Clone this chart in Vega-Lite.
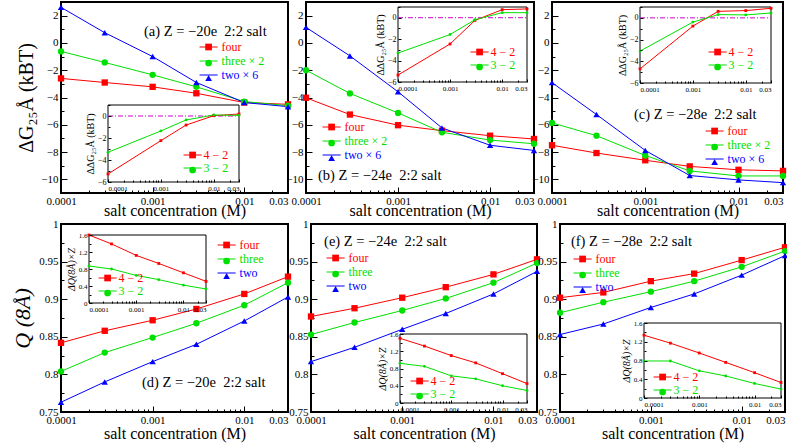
{
"$schema": "https://vega.github.io/schema/vega-lite/v6.json",
"padding": {"left": 10, "top": 0, "right": 0, "bottom": 2},
"config": {
  "view": {"stroke": "black", "strokeWidth": 2},
  "font": "Liberation Serif",
  "axis": {"grid": false, "domain": false, "labelFont": "Liberation Serif", "titleFont": "Liberation Serif", "labelColor": "black", "titleColor": "black", "tickColor": "black", "titleFontWeight": "normal"},
  "legend": {"labelFont": "Liberation Serif"},
  "text": {"font": "Liberation Serif"}
},
"datasets": {
  "titles": [
    {"p": "a", "t": "(a) Z = −20e\u00a0 2:2 salt"},
    {"p": "b", "t": "(b) Z = −24e\u00a0 2:2 salt"},
    {"p": "c", "t": "(c) Z = −28e\u00a0 2:2 salt"},
    {"p": "d", "t": "(d) Z = −20e\u00a0 2:2 salt"},
    {"p": "e", "t": "(e) Z = −24e\u00a0 2:2 salt"},
    {"p": "f", "t": "(f) Z = −28e\u00a0 2:2 salt"}
  ],
  "main": [
    {"p":"a","s":"four","c":0.0001,"v":-2.6},{"p":"a","s":"four","c":0.0003,"v":-2.9},{"p":"a","s":"four","c":0.001,"v":-3.22},{"p":"a","s":"four","c":0.003,"v":-3.69},{"p":"a","s":"four","c":0.01,"v":-4.37},{"p":"a","s":"four","c":0.03,"v":-4.5},
    {"p":"a","s":"three × 2","c":0.0001,"v":-0.62},{"p":"a","s":"three × 2","c":0.0003,"v":-1.43},{"p":"a","s":"three × 2","c":0.001,"v":-2.34},{"p":"a","s":"three × 2","c":0.003,"v":-3.22},{"p":"a","s":"three × 2","c":0.01,"v":-4.3},{"p":"a","s":"three × 2","c":0.03,"v":-4.6},
    {"p":"a","s":"two × 6","c":0.0001,"v":2.61},{"p":"a","s":"two × 6","c":0.0003,"v":0.75},{"p":"a","s":"two × 6","c":0.001,"v":-1.0},{"p":"a","s":"two × 6","c":0.003,"v":-2.9},{"p":"a","s":"two × 6","c":0.01,"v":-4.37},{"p":"a","s":"two × 6","c":0.03,"v":-4.67},
    {"p":"b","s":"four","c":0.0001,"v":-4.02},{"p":"b","s":"four","c":0.0003,"v":-5.25},{"p":"b","s":"four","c":0.001,"v":-6.03},{"p":"b","s":"four","c":0.003,"v":-6.43},{"p":"b","s":"four","c":0.01,"v":-6.8},{"p":"b","s":"four","c":0.03,"v":-7.04},
    {"p":"b","s":"three × 2","c":0.0001,"v":-2.0},{"p":"b","s":"three × 2","c":0.0003,"v":-3.7},{"p":"b","s":"three × 2","c":0.001,"v":-5.13},{"p":"b","s":"three × 2","c":0.003,"v":-6.55},{"p":"b","s":"three × 2","c":0.01,"v":-7.12},{"p":"b","s":"three × 2","c":0.03,"v":-7.39},
    {"p":"b","s":"two × 6","c":0.0001,"v":1.14},{"p":"b","s":"two × 6","c":0.0003,"v":-0.95},{"p":"b","s":"two × 6","c":0.001,"v":-3.58},{"p":"b","s":"two × 6","c":0.003,"v":-6.23},{"p":"b","s":"two × 6","c":0.01,"v":-7.5},{"p":"b","s":"two × 6","c":0.03,"v":-7.88},
    {"p":"c","s":"four","c":0.0001,"v":-7.5},{"p":"c","s":"four","c":0.0003,"v":-8.07},{"p":"c","s":"four","c":0.001,"v":-8.6},{"p":"c","s":"four","c":0.003,"v":-9.05},{"p":"c","s":"four","c":0.01,"v":-9.3},{"p":"c","s":"four","c":0.03,"v":-9.38},
    {"p":"c","s":"three × 2","c":0.0001,"v":-5.86},{"p":"c","s":"three × 2","c":0.0003,"v":-6.8},{"p":"c","s":"three × 2","c":0.001,"v":-8.25},{"p":"c","s":"three × 2","c":0.003,"v":-9.38},{"p":"c","s":"three × 2","c":0.01,"v":-9.75},{"p":"c","s":"three × 2","c":0.03,"v":-9.75},
    {"p":"c","s":"two × 6","c":0.0001,"v":-2.91},{"p":"c","s":"two × 6","c":0.0003,"v":-5.25},{"p":"c","s":"two × 6","c":0.001,"v":-7.88},{"p":"c","s":"two × 6","c":0.003,"v":-9.72},{"p":"c","s":"two × 6","c":0.01,"v":-10.04},{"p":"c","s":"two × 6","c":0.03,"v":-10.24},
    {"p":"d","s":"four","c":0.0001,"v":0.842},{"p":"d","s":"four","c":0.0003,"v":0.858},{"p":"d","s":"four","c":0.001,"v":0.872},{"p":"d","s":"four","c":0.003,"v":0.887},{"p":"d","s":"four","c":0.01,"v":0.907},{"p":"d","s":"four","c":0.03,"v":0.93},
    {"p":"d","s":"three","c":0.0001,"v":0.804},{"p":"d","s":"three","c":0.0003,"v":0.829},{"p":"d","s":"three","c":0.001,"v":0.849},{"p":"d","s":"three","c":0.003,"v":0.868},{"p":"d","s":"three","c":0.01,"v":0.892},{"p":"d","s":"three","c":0.03,"v":0.922},
    {"p":"d","s":"two","c":0.0001,"v":0.763},{"p":"d","s":"two","c":0.0003,"v":0.79},{"p":"d","s":"two","c":0.001,"v":0.817},{"p":"d","s":"two","c":0.003,"v":0.84},{"p":"d","s":"two","c":0.01,"v":0.871},{"p":"d","s":"two","c":0.03,"v":0.903},
    {"p":"e","s":"four","c":0.0001,"v":0.877},{"p":"e","s":"four","c":0.0003,"v":0.888},{"p":"e","s":"four","c":0.001,"v":0.902},{"p":"e","s":"four","c":0.003,"v":0.916},{"p":"e","s":"four","c":0.01,"v":0.933},{"p":"e","s":"four","c":0.03,"v":0.953},
    {"p":"e","s":"three","c":0.0001,"v":0.853},{"p":"e","s":"three","c":0.0003,"v":0.869},{"p":"e","s":"three","c":0.001,"v":0.885},{"p":"e","s":"three","c":0.003,"v":0.901},{"p":"e","s":"three","c":0.01,"v":0.922},{"p":"e","s":"three","c":0.03,"v":0.948},
    {"p":"e","s":"two","c":0.0001,"v":0.817},{"p":"e","s":"two","c":0.0003,"v":0.836},{"p":"e","s":"two","c":0.001,"v":0.86},{"p":"e","s":"two","c":0.003,"v":0.881},{"p":"e","s":"two","c":0.01,"v":0.907},{"p":"e","s":"two","c":0.03,"v":0.937},
    {"p":"f","s":"four","c":0.0001,"v":0.902},{"p":"f","s":"four","c":0.0003,"v":0.909},{"p":"f","s":"four","c":0.001,"v":0.924},{"p":"f","s":"four","c":0.003,"v":0.934},{"p":"f","s":"four","c":0.01,"v":0.952},{"p":"f","s":"four","c":0.03,"v":0.969},
    {"p":"f","s":"three","c":0.0001,"v":0.882},{"p":"f","s":"three","c":0.0003,"v":0.896},{"p":"f","s":"three","c":0.001,"v":0.91},{"p":"f","s":"three","c":0.003,"v":0.924},{"p":"f","s":"three","c":0.01,"v":0.943},{"p":"f","s":"three","c":0.03,"v":0.964},
    {"p":"f","s":"two","c":0.0001,"v":0.853},{"p":"f","s":"two","c":0.0003,"v":0.867},{"p":"f","s":"two","c":0.001,"v":0.889},{"p":"f","s":"two","c":0.003,"v":0.907},{"p":"f","s":"two","c":0.01,"v":0.932},{"p":"f","s":"two","c":0.03,"v":0.958}
  ],
  "inset": [
    {"p":"a","s":"4 − 2","c":0.0001,"v":-5.27},{"p":"a","s":"4 − 2","c":0.001,"v":-2.24},{"p":"a","s":"4 − 2","c":0.003,"v":-0.82},{"p":"a","s":"4 − 2","c":0.01,"v":0.03},{"p":"a","s":"4 − 2","c":0.03,"v":0.18},
    {"p":"a","s":"3 − 2","c":0.0001,"v":-3.3},{"p":"a","s":"3 − 2","c":0.001,"v":-1.36},{"p":"a","s":"3 − 2","c":0.003,"v":-0.36},{"p":"a","s":"3 − 2","c":0.01,"v":0.09},{"p":"a","s":"3 − 2","c":0.03,"v":0.06},
    {"p":"b","s":"4 − 2","c":0.0001,"v":-5.35},{"p":"b","s":"4 − 2","c":0.001,"v":-2.45},{"p":"b","s":"4 − 2","c":0.003,"v":-0.25},{"p":"b","s":"4 − 2","c":0.01,"v":0.75},{"p":"b","s":"4 − 2","c":0.03,"v":0.82},
    {"p":"b","s":"3 − 2","c":0.0001,"v":-3.3},{"p":"b","s":"3 − 2","c":0.001,"v":-1.57},{"p":"b","s":"3 − 2","c":0.003,"v":-0.19},{"p":"b","s":"3 − 2","c":0.01,"v":0.47},{"p":"b","s":"3 − 2","c":0.03,"v":0.47},
    {"p":"c","s":"4 − 2","c":0.0001,"v":-4.7},{"p":"c","s":"4 − 2","c":0.001,"v":-0.76},{"p":"c","s":"4 − 2","c":0.003,"v":0.6},{"p":"c","s":"4 − 2","c":0.01,"v":0.67},{"p":"c","s":"4 − 2","c":0.03,"v":0.88},
    {"p":"c","s":"3 − 2","c":0.0001,"v":-3.06},{"p":"c","s":"3 − 2","c":0.001,"v":-0.39},{"p":"c","s":"3 − 2","c":0.003,"v":0.3},{"p":"c","s":"3 − 2","c":0.01,"v":0.27},{"p":"c","s":"3 − 2","c":0.03,"v":0.45},
    {"p":"d","s":"4 − 2","c":0.0001,"v":1.6},{"p":"d","s":"4 − 2","c":0.0003,"v":1.39},{"p":"d","s":"4 − 2","c":0.001,"v":1.12},{"p":"d","s":"4 − 2","c":0.003,"v":0.93},{"p":"d","s":"4 − 2","c":0.01,"v":0.71},{"p":"d","s":"4 − 2","c":0.03,"v":0.51},
    {"p":"d","s":"3 − 2","c":0.0001,"v":0.87},{"p":"d","s":"3 − 2","c":0.0003,"v":0.8},{"p":"d","s":"3 − 2","c":0.001,"v":0.65},{"p":"d","s":"3 − 2","c":0.003,"v":0.55},{"p":"d","s":"3 − 2","c":0.01,"v":0.42},{"p":"d","s":"3 − 2","c":0.03,"v":0.33},
    {"p":"e","s":"4 − 2","c":0.0001,"v":1.5},{"p":"e","s":"4 − 2","c":0.0003,"v":1.32},{"p":"e","s":"4 − 2","c":0.001,"v":1.1},{"p":"e","s":"4 − 2","c":0.003,"v":0.93},{"p":"e","s":"4 − 2","c":0.01,"v":0.68},{"p":"e","s":"4 − 2","c":0.03,"v":0.45},
    {"p":"e","s":"3 − 2","c":0.0001,"v":0.92},{"p":"e","s":"3 − 2","c":0.0003,"v":0.85},{"p":"e","s":"3 − 2","c":0.001,"v":0.63},{"p":"e","s":"3 − 2","c":0.003,"v":0.56},{"p":"e","s":"3 − 2","c":0.01,"v":0.4},{"p":"e","s":"3 − 2","c":0.03,"v":0.29},
    {"p":"f","s":"4 − 2","c":0.0001,"v":1.34},{"p":"f","s":"4 − 2","c":0.0003,"v":1.17},{"p":"f","s":"4 − 2","c":0.001,"v":0.96},{"p":"f","s":"4 − 2","c":0.003,"v":0.76},{"p":"f","s":"4 − 2","c":0.01,"v":0.54},{"p":"f","s":"4 − 2","c":0.03,"v":0.33},
    {"p":"f","s":"3 − 2","c":0.0001,"v":0.79},{"p":"f","s":"3 − 2","c":0.0003,"v":0.79},{"p":"f","s":"3 − 2","c":0.001,"v":0.58},{"p":"f","s":"3 − 2","c":0.003,"v":0.47},{"p":"f","s":"3 − 2","c":0.01,"v":0.31},{"p":"f","s":"3 − 2","c":0.03,"v":0.19}
  ]
},
"spacing": -2,
"resolve": {"scale": {"stroke": "independent", "fill": "independent", "shape": "independent"}, "legend": {"stroke": "independent", "fill": "independent", "shape": "independent"}},
"vconcat": [
{
"hconcat": [
{
"width": 227, "height": 191,
"layer": [
 {"layer": [
  {"data": {"name": "main"}, "transform": [{"filter": "datum.p=='a'"}],
   "mark": {"type": "line", "strokeWidth": 1},
   "encoding": {
    "x": {"field": "c", "type": "quantitative", "scale": {"type": "log", "domain": [0.0001, 0.03], "nice": false},
      "axis": {"orient": "bottom", "values": [0.0001, 0.001, 0.01, 0.03], "format": "~g", "labelFlush": false, "labelAlign": {"condition": {"test": "datum.value > 0.02", "value": "right"}, "value": "center"}, "labelFontSize": 11, "labelPadding": 8, "tickSize": -6, "title": "salt concentration (M)", "titleFontSize": 16, "titlePadding": -4}},
    "y": {"field": "v", "type": "quantitative", "scale": {"domain": [-11, 3], "nice": false, "zero": false},
      "axis": {"orient": "left", "values": [-10, -8, -6, -4, -2, 0, 2], "labelFontSize": 11, "labelPadding": 9, "tickSize": -6, "title": "ΔG₂₅Å (kBT)", "titleFontSize": 20, "titlePadding": 4}},
    "stroke": {"field": "s", "type": "nominal", "scale": {"domain": ["four", "three × 2", "two × 6"], "range": ["#ff0000", "#00e000", "#0000ff"]},
      "legend": {"orient": "none", "legendX": 141.6, "legendY": 39, "title": null, "padding": 0, "rowPadding": 2, "labelFontSize": 12, "labelOffset": 7, "symbolType": "M-2.7,0H2.7", "symbolSize": 45, "symbolStrokeWidth": 1, "encode": {"labels": {"update": {"fill": {"signal": "indexof(datum.value,'f')==0||indexof(datum.value,'4')==0?'#ff0000':(indexof(datum.value,'th')==0||indexof(datum.value,'3')==0?'#00e000':'#0000ff')"}}}}}}
   }},
  {"data": {"name": "main"}, "transform": [{"filter": "datum.p=='a'"}],
   "mark": {"type": "point", "filled": true, "size": 40, "opacity": 1},
   "encoding": {
    "x": {"field": "c", "type": "quantitative", "scale": {"type": "log", "domain": [0.0001, 0.03], "nice": false},
      "axis": {"orient": "bottom", "values": [0.0002,0.0003,0.0004,0.0005,0.0006,0.0007,0.0008,0.0009,0.002,0.003,0.004,0.005,0.006,0.007,0.008,0.009,0.02], "labels": false, "tickSize": -3, "title": null}},
    "y": {"field": "v", "type": "quantitative", "scale": {"domain": [-11, 3], "nice": false, "zero": false},
      "axis": {"orient": "left", "values": [-11, -9, -7, -5, -3, -1, 1, 3], "labels": false, "tickSize": -3, "title": null}},
    "fill": {"field": "s", "type": "nominal", "scale": {"range": ["#ff0000", "#00e000", "#0000ff"]},
      "legend": {"orient": "none", "legendX": 141.6, "legendY": 39, "title": null, "padding": 0, "rowPadding": 2, "labelFontSize": 12, "labelColor": "transparent", "symbolSize": 45}},
    "shape": {"field": "s", "type": "nominal", "scale": {"range": ["square", "circle", "triangle-up"]},
      "legend": {"orient": "none", "legendX": 141.6, "legendY": 39, "title": null, "padding": 0, "rowPadding": 2, "labelFontSize": 12, "labelColor": "transparent", "symbolSize": 45}}
   }},
  {"data": {"name": "titles"}, "transform": [{"filter": "datum.p=='a'"}],
   "mark": {"type": "text", "align": "left", "baseline": "middle", "fontSize": 14.5},
   "encoding": {
    "x": {"datum": 0.000805, "type": "quantitative", "scale": {"type": "log", "domain": [0.0001, 0.03], "nice": false}, "axis": null},
    "y": {"datum": 0.8, "type": "quantitative", "scale": {"domain": [-11, 3], "nice": false, "zero": false}, "axis": null},
    "text": {"field": "t"}
   }}
 ],
 "resolve": {"axis": {"x": "independent", "y": "independent"}}},
 {"layer": [
  {"data": {"name": "titles"}, "transform": [{"filter": "datum.p=='a'"}],
   "mark": {"type": "rect", "fill": "white", "stroke": "black", "strokeWidth": 1},
   "encoding": {
    "x": {"datum": 0.0001, "type": "quantitative", "scale": {"type": "log", "domain": [0.0001, 0.03], "nice": false, "range": [47, 178]},
      "axis": {"orient": "bottom", "offset": -11, "values": [0.0001, 0.001, 0.01, 0.03], "format": "~g", "labelFlush": true, "labelFontSize": 7, "labelPadding": 5, "tickSize": -3, "title": null, "zindex": 1}},
    "x2": {"datum": 0.03},
    "y": {"datum": 1, "type": "quantitative", "scale": {"domain": [-6, 1], "nice": false, "zero": false, "range": [180, 103]},
      "axis": {"orient": "left", "offset": -47, "values": [-6, -4, -2, 0], "labelFontSize": 8, "labelPadding": 5, "tickSize": -3, "title": "ΔΔG₂₅Å (kBT)", "titleFontSize": 10, "titlePadding": 2, "zindex": 1}},
    "y2": {"datum": -6}
   }},
  {"data": {"name": "titles"}, "transform": [{"filter": "datum.p=='a'"}],
   "mark": {"type": "rule", "stroke": "#cc00cc", "strokeWidth": 1, "strokeDash": [5, 2, 1, 2]},
   "encoding": {
    "x": {"datum": 0.0001, "type": "quantitative", "scale": {"type": "log", "domain": [0.0001, 0.03], "nice": false, "range": [47, 178]}, "axis": null},
    "x2": {"datum": 0.03},
    "y": {"datum": 0, "type": "quantitative", "scale": {"domain": [-6, 1], "nice": false, "zero": false, "range": [180, 103]}, "axis": null}
   }},
  {"data": {"name": "inset"}, "transform": [{"filter": "datum.p=='a'"}],
   "mark": {"type": "line", "strokeWidth": 1},
   "encoding": {
    "x": {"field": "c", "type": "quantitative", "scale": {"type": "log", "domain": [0.0001, 0.03], "nice": false, "range": [47, 178]},
      "axis": {"orient": "bottom", "offset": -11, "values": [0.0002,0.0003,0.0004,0.0005,0.0006,0.0007,0.0008,0.0009,0.002,0.003,0.004,0.005,0.006,0.007,0.008,0.009,0.02], "labels": false, "tickSize": -2, "title": null, "zindex": 1}},
    "y": {"field": "v", "type": "quantitative", "scale": {"domain": [-6, 1], "nice": false, "zero": false, "range": [180, 103]},
      "axis": {"orient": "left", "offset": -47, "values": [-5, -3, -1, 1], "labels": false, "tickSize": -2, "title": null, "zindex": 1}},
    "stroke": {"field": "s", "type": "nominal", "scale": {"domain": ["4 − 2", "3 − 2"], "range": ["#ff0000", "#00e000"]},
      "legend": {"orient": "none", "legendX": 125.6, "legendY": 147, "title": null, "padding": 0, "rowPadding": 1, "labelFontSize": 12, "labelOffset": 5, "symbolType": "M-2.7,0H2.7", "symbolSize": 45, "symbolStrokeWidth": 1, "encode": {"labels": {"update": {"fill": {"signal": "indexof(datum.value,'f')==0||indexof(datum.value,'4')==0?'#ff0000':(indexof(datum.value,'th')==0||indexof(datum.value,'3')==0?'#00e000':'#0000ff')"}}}}}}
   }},
  {"data": {"name": "inset"}, "transform": [{"filter": "datum.p=='a'"}],
   "mark": {"type": "point", "filled": true, "size": 8, "opacity": 1},
   "encoding": {
    "x": {"field": "c", "type": "quantitative", "scale": {"type": "log", "domain": [0.0001, 0.03], "nice": false, "range": [47, 178]}, "axis": null},
    "y": {"field": "v", "type": "quantitative", "scale": {"domain": [-6, 1], "nice": false, "zero": false, "range": [180, 103]}, "axis": null},
    "fill": {"field": "s", "type": "nominal", "sort": "descending", "scale": {"range": ["#ff0000", "#00e000"]},
      "legend": {"orient": "none", "legendX": 125.6, "legendY": 147, "title": null, "padding": 0, "rowPadding": 1, "labelFontSize": 12, "labelColor": "transparent", "symbolSize": 45}},
    "shape": {"field": "s", "type": "nominal", "sort": "descending", "scale": {"range": ["square", "circle"]},
      "legend": {"orient": "none", "legendX": 125.6, "legendY": 147, "title": null, "padding": 0, "rowPadding": 1, "labelFontSize": 12, "labelColor": "transparent", "symbolSize": 45}}
   }}
 ],
 "resolve": {"axis": {"x": "independent", "y": "independent"}}}
],
"resolve": {"scale": {"x": "independent", "y": "independent", "stroke": "independent", "fill": "independent", "shape": "independent"}, "legend": {"stroke": "independent", "fill": "independent", "shape": "independent"}}
},
{
"width": 228, "height": 191,
"layer": [
 {"layer": [
  {"data": {"name": "main"}, "transform": [{"filter": "datum.p=='b'"}],
   "mark": {"type": "line", "strokeWidth": 1},
   "encoding": {
    "x": {"field": "c", "type": "quantitative", "scale": {"type": "log", "domain": [0.0001, 0.03], "nice": false},
      "axis": {"orient": "bottom", "values": [0.0001, 0.001, 0.01, 0.03], "format": "~g", "labelFlush": false, "labelAlign": {"condition": {"test": "datum.value > 0.02", "value": "right"}, "value": "center"}, "labelFontSize": 11, "labelPadding": 8, "tickSize": -6, "title": "salt concentration (M)", "titleFontSize": 16, "titlePadding": -4}},
    "y": {"field": "v", "type": "quantitative", "scale": {"domain": [-11, 3], "nice": false, "zero": false},
      "axis": {"orient": "left", "values": [-10, -8, -6, -4, -2, 0, 2], "labelFontSize": 11, "labelPadding": 9, "tickSize": -6, "title": null}},
    "stroke": {"field": "s", "type": "nominal", "scale": {"domain": ["four", "three × 2", "two × 6"], "range": ["#ff0000", "#00e000", "#0000ff"]},
      "legend": {"orient": "none", "legendX": 19.6, "legendY": 119, "title": null, "padding": 0, "rowPadding": 2, "labelFontSize": 12, "labelOffset": 7, "symbolType": "M-2.7,0H2.7", "symbolSize": 45, "symbolStrokeWidth": 1, "encode": {"labels": {"update": {"fill": {"signal": "indexof(datum.value,'f')==0||indexof(datum.value,'4')==0?'#ff0000':(indexof(datum.value,'th')==0||indexof(datum.value,'3')==0?'#00e000':'#0000ff')"}}}}}}
   }},
  {"data": {"name": "main"}, "transform": [{"filter": "datum.p=='b'"}],
   "mark": {"type": "point", "filled": true, "size": 40, "opacity": 1},
   "encoding": {
    "x": {"field": "c", "type": "quantitative", "scale": {"type": "log", "domain": [0.0001, 0.03], "nice": false},
      "axis": {"orient": "bottom", "values": [0.0002,0.0003,0.0004,0.0005,0.0006,0.0007,0.0008,0.0009,0.002,0.003,0.004,0.005,0.006,0.007,0.008,0.009,0.02], "labels": false, "tickSize": -3, "title": null}},
    "y": {"field": "v", "type": "quantitative", "scale": {"domain": [-11, 3], "nice": false, "zero": false},
      "axis": {"orient": "left", "values": [-11, -9, -7, -5, -3, -1, 1, 3], "labels": false, "tickSize": -3, "title": null}},
    "fill": {"field": "s", "type": "nominal", "scale": {"range": ["#ff0000", "#00e000", "#0000ff"]},
      "legend": {"orient": "none", "legendX": 19.6, "legendY": 119, "title": null, "padding": 0, "rowPadding": 2, "labelFontSize": 12, "labelColor": "transparent", "symbolSize": 45}},
    "shape": {"field": "s", "type": "nominal", "scale": {"range": ["square", "circle", "triangle-up"]},
      "legend": {"orient": "none", "legendX": 19.6, "legendY": 119, "title": null, "padding": 0, "rowPadding": 2, "labelFontSize": 12, "labelColor": "transparent", "symbolSize": 45}}
   }},
  {"data": {"name": "titles"}, "transform": [{"filter": "datum.p=='b'"}],
   "mark": {"type": "text", "align": "left", "baseline": "middle", "fontSize": 14.5},
   "encoding": {
    "x": {"datum": 0.000135, "type": "quantitative", "scale": {"type": "log", "domain": [0.0001, 0.03], "nice": false}, "axis": null},
    "y": {"datum": -9.75, "type": "quantitative", "scale": {"domain": [-11, 3], "nice": false, "zero": false}, "axis": null},
    "text": {"field": "t"}
   }}
 ],
 "resolve": {"axis": {"x": "independent", "y": "independent"}}},
 {"layer": [
  {"data": {"name": "titles"}, "transform": [{"filter": "datum.p=='b'"}],
   "mark": {"type": "rect", "fill": "white", "stroke": "black", "strokeWidth": 1},
   "encoding": {
    "x": {"datum": 0.0001, "type": "quantitative", "scale": {"type": "log", "domain": [0.0001, 0.03], "nice": false, "range": [92, 221]},
      "axis": {"orient": "bottom", "offset": -111, "values": [0.0001, 0.001, 0.01, 0.03], "format": "~g", "labelFlush": true, "labelFontSize": 7, "labelPadding": 5, "tickSize": -3, "title": null, "zindex": 1}},
    "x2": {"datum": 0.03},
    "y": {"datum": 1, "type": "quantitative", "scale": {"domain": [-6, 1], "nice": false, "zero": false, "range": [80, 5]},
      "axis": {"orient": "left", "offset": -92, "values": [-6, -4, -2, 0], "labelFontSize": 8, "labelPadding": 5, "tickSize": -3, "title": "ΔΔG₂₅Å (kBT)", "titleFontSize": 10, "titlePadding": 2, "zindex": 1}},
    "y2": {"datum": -6}
   }},
  {"data": {"name": "titles"}, "transform": [{"filter": "datum.p=='b'"}],
   "mark": {"type": "rule", "stroke": "#cc00cc", "strokeWidth": 1, "strokeDash": [5, 2, 1, 2]},
   "encoding": {
    "x": {"datum": 0.0001, "type": "quantitative", "scale": {"type": "log", "domain": [0.0001, 0.03], "nice": false, "range": [92, 221]}, "axis": null},
    "x2": {"datum": 0.03},
    "y": {"datum": 0, "type": "quantitative", "scale": {"domain": [-6, 1], "nice": false, "zero": false, "range": [80, 5]}, "axis": null}
   }},
  {"data": {"name": "inset"}, "transform": [{"filter": "datum.p=='b'"}],
   "mark": {"type": "line", "strokeWidth": 1},
   "encoding": {
    "x": {"field": "c", "type": "quantitative", "scale": {"type": "log", "domain": [0.0001, 0.03], "nice": false, "range": [92, 221]},
      "axis": {"orient": "bottom", "offset": -111, "values": [0.0002,0.0003,0.0004,0.0005,0.0006,0.0007,0.0008,0.0009,0.002,0.003,0.004,0.005,0.006,0.007,0.008,0.009,0.02], "labels": false, "tickSize": -2, "title": null, "zindex": 1}},
    "y": {"field": "v", "type": "quantitative", "scale": {"domain": [-6, 1], "nice": false, "zero": false, "range": [80, 5]},
      "axis": {"orient": "left", "offset": -92, "values": [-5, -3, -1, 1], "labels": false, "tickSize": -2, "title": null, "zindex": 1}},
    "stroke": {"field": "s", "type": "nominal", "scale": {"domain": ["4 − 2", "3 − 2"], "range": ["#ff0000", "#00e000"]},
      "legend": {"orient": "none", "legendX": 167.6, "legendY": 44, "title": null, "padding": 0, "rowPadding": 1, "labelFontSize": 12, "labelOffset": 5, "symbolType": "M-2.7,0H2.7", "symbolSize": 45, "symbolStrokeWidth": 1, "encode": {"labels": {"update": {"fill": {"signal": "indexof(datum.value,'f')==0||indexof(datum.value,'4')==0?'#ff0000':(indexof(datum.value,'th')==0||indexof(datum.value,'3')==0?'#00e000':'#0000ff')"}}}}}}
   }},
  {"data": {"name": "inset"}, "transform": [{"filter": "datum.p=='b'"}],
   "mark": {"type": "point", "filled": true, "size": 8, "opacity": 1},
   "encoding": {
    "x": {"field": "c", "type": "quantitative", "scale": {"type": "log", "domain": [0.0001, 0.03], "nice": false, "range": [92, 221]}, "axis": null},
    "y": {"field": "v", "type": "quantitative", "scale": {"domain": [-6, 1], "nice": false, "zero": false, "range": [80, 5]}, "axis": null},
    "fill": {"field": "s", "type": "nominal", "sort": "descending", "scale": {"range": ["#ff0000", "#00e000"]},
      "legend": {"orient": "none", "legendX": 167.6, "legendY": 44, "title": null, "padding": 0, "rowPadding": 1, "labelFontSize": 12, "labelColor": "transparent", "symbolSize": 45}},
    "shape": {"field": "s", "type": "nominal", "sort": "descending", "scale": {"range": ["square", "circle"]},
      "legend": {"orient": "none", "legendX": 167.6, "legendY": 44, "title": null, "padding": 0, "rowPadding": 1, "labelFontSize": 12, "labelColor": "transparent", "symbolSize": 45}}
   }}
 ],
 "resolve": {"axis": {"x": "independent", "y": "independent"}}}
],
"resolve": {"scale": {"x": "independent", "y": "independent", "stroke": "independent", "fill": "independent", "shape": "independent"}, "legend": {"stroke": "independent", "fill": "independent", "shape": "independent"}}
},
{
"width": 231, "height": 191,
"layer": [
 {"layer": [
  {"data": {"name": "main"}, "transform": [{"filter": "datum.p=='c'"}],
   "mark": {"type": "line", "strokeWidth": 1},
   "encoding": {
    "x": {"field": "c", "type": "quantitative", "scale": {"type": "log", "domain": [0.0001, 0.03], "nice": false},
      "axis": {"orient": "bottom", "values": [0.0001, 0.001, 0.01, 0.03], "format": "~g", "labelFlush": false, "labelAlign": {"condition": {"test": "datum.value > 0.02", "value": "right"}, "value": "center"}, "labelFontSize": 11, "labelPadding": 8, "tickSize": -6, "title": "salt concentration (M)", "titleFontSize": 16, "titlePadding": -4}},
    "y": {"field": "v", "type": "quantitative", "scale": {"domain": [-11, 3], "nice": false, "zero": false},
      "axis": {"orient": "left", "values": [-10, -8, -6, -4, -2, 0, 2], "labelFontSize": 11, "labelPadding": 9, "tickSize": -6, "title": null}},
    "stroke": {"field": "s", "type": "nominal", "scale": {"domain": ["four", "three × 2", "two × 6"], "range": ["#ff0000", "#00e000", "#0000ff"]},
      "legend": {"orient": "none", "legendX": 156.6, "legendY": 123, "title": null, "padding": 0, "rowPadding": 2, "labelFontSize": 12, "labelOffset": 7, "symbolType": "M-2.7,0H2.7", "symbolSize": 45, "symbolStrokeWidth": 1, "encode": {"labels": {"update": {"fill": {"signal": "indexof(datum.value,'f')==0||indexof(datum.value,'4')==0?'#ff0000':(indexof(datum.value,'th')==0||indexof(datum.value,'3')==0?'#00e000':'#0000ff')"}}}}}}
   }},
  {"data": {"name": "main"}, "transform": [{"filter": "datum.p=='c'"}],
   "mark": {"type": "point", "filled": true, "size": 40, "opacity": 1},
   "encoding": {
    "x": {"field": "c", "type": "quantitative", "scale": {"type": "log", "domain": [0.0001, 0.03], "nice": false},
      "axis": {"orient": "bottom", "values": [0.0002,0.0003,0.0004,0.0005,0.0006,0.0007,0.0008,0.0009,0.002,0.003,0.004,0.005,0.006,0.007,0.008,0.009,0.02], "labels": false, "tickSize": -3, "title": null}},
    "y": {"field": "v", "type": "quantitative", "scale": {"domain": [-11, 3], "nice": false, "zero": false},
      "axis": {"orient": "left", "values": [-11, -9, -7, -5, -3, -1, 1, 3], "labels": false, "tickSize": -3, "title": null}},
    "fill": {"field": "s", "type": "nominal", "scale": {"range": ["#ff0000", "#00e000", "#0000ff"]},
      "legend": {"orient": "none", "legendX": 156.6, "legendY": 123, "title": null, "padding": 0, "rowPadding": 2, "labelFontSize": 12, "labelColor": "transparent", "symbolSize": 45}},
    "shape": {"field": "s", "type": "nominal", "scale": {"range": ["square", "circle", "triangle-up"]},
      "legend": {"orient": "none", "legendX": 156.6, "legendY": 123, "title": null, "padding": 0, "rowPadding": 2, "labelFontSize": 12, "labelColor": "transparent", "symbolSize": 45}}
   }},
  {"data": {"name": "titles"}, "transform": [{"filter": "datum.p=='c'"}],
   "mark": {"type": "text", "align": "left", "baseline": "middle", "fontSize": 14.5},
   "encoding": {
    "x": {"datum": 0.000757, "type": "quantitative", "scale": {"type": "log", "domain": [0.0001, 0.03], "nice": false}, "axis": null},
    "y": {"datum": -5.28, "type": "quantitative", "scale": {"domain": [-11, 3], "nice": false, "zero": false}, "axis": null},
    "text": {"field": "t"}
   }}
 ],
 "resolve": {"axis": {"x": "independent", "y": "independent"}}},
 {"layer": [
  {"data": {"name": "titles"}, "transform": [{"filter": "datum.p=='c'"}],
   "mark": {"type": "rect", "fill": "white", "stroke": "black", "strokeWidth": 1},
   "encoding": {
    "x": {"datum": 0.0001, "type": "quantitative", "scale": {"type": "log", "domain": [0.0001, 0.03], "nice": false, "range": [88, 219]},
      "axis": {"orient": "bottom", "offset": -110, "values": [0.0001, 0.001, 0.01, 0.03], "format": "~g", "labelFlush": true, "labelFontSize": 7, "labelPadding": 5, "tickSize": -3, "title": null, "zindex": 1}},
    "x2": {"datum": 0.03},
    "y": {"datum": 1, "type": "quantitative", "scale": {"domain": [-6, 1], "nice": false, "zero": false, "range": [81, 5]},
      "axis": {"orient": "left", "offset": -88, "values": [-6, -4, -2, 0], "labelFontSize": 8, "labelPadding": 5, "tickSize": -3, "title": "ΔΔG₂₅Å (kBT)", "titleFontSize": 10, "titlePadding": 2, "zindex": 1}},
    "y2": {"datum": -6}
   }},
  {"data": {"name": "titles"}, "transform": [{"filter": "datum.p=='c'"}],
   "mark": {"type": "rule", "stroke": "#cc00cc", "strokeWidth": 1, "strokeDash": [5, 2, 1, 2]},
   "encoding": {
    "x": {"datum": 0.0001, "type": "quantitative", "scale": {"type": "log", "domain": [0.0001, 0.03], "nice": false, "range": [88, 219]}, "axis": null},
    "x2": {"datum": 0.03},
    "y": {"datum": 0, "type": "quantitative", "scale": {"domain": [-6, 1], "nice": false, "zero": false, "range": [81, 5]}, "axis": null}
   }},
  {"data": {"name": "inset"}, "transform": [{"filter": "datum.p=='c'"}],
   "mark": {"type": "line", "strokeWidth": 1},
   "encoding": {
    "x": {"field": "c", "type": "quantitative", "scale": {"type": "log", "domain": [0.0001, 0.03], "nice": false, "range": [88, 219]},
      "axis": {"orient": "bottom", "offset": -110, "values": [0.0002,0.0003,0.0004,0.0005,0.0006,0.0007,0.0008,0.0009,0.002,0.003,0.004,0.005,0.006,0.007,0.008,0.009,0.02], "labels": false, "tickSize": -2, "title": null, "zindex": 1}},
    "y": {"field": "v", "type": "quantitative", "scale": {"domain": [-6, 1], "nice": false, "zero": false, "range": [81, 5]},
      "axis": {"orient": "left", "offset": -88, "values": [-5, -3, -1, 1], "labels": false, "tickSize": -2, "title": null, "zindex": 1}},
    "stroke": {"field": "s", "type": "nominal", "scale": {"domain": ["4 − 2", "3 − 2"], "range": ["#ff0000", "#00e000"]},
      "legend": {"orient": "none", "legendX": 159.6, "legendY": 44, "title": null, "padding": 0, "rowPadding": 1, "labelFontSize": 12, "labelOffset": 5, "symbolType": "M-2.7,0H2.7", "symbolSize": 45, "symbolStrokeWidth": 1, "encode": {"labels": {"update": {"fill": {"signal": "indexof(datum.value,'f')==0||indexof(datum.value,'4')==0?'#ff0000':(indexof(datum.value,'th')==0||indexof(datum.value,'3')==0?'#00e000':'#0000ff')"}}}}}}
   }},
  {"data": {"name": "inset"}, "transform": [{"filter": "datum.p=='c'"}],
   "mark": {"type": "point", "filled": true, "size": 8, "opacity": 1},
   "encoding": {
    "x": {"field": "c", "type": "quantitative", "scale": {"type": "log", "domain": [0.0001, 0.03], "nice": false, "range": [88, 219]}, "axis": null},
    "y": {"field": "v", "type": "quantitative", "scale": {"domain": [-6, 1], "nice": false, "zero": false, "range": [81, 5]}, "axis": null},
    "fill": {"field": "s", "type": "nominal", "sort": "descending", "scale": {"range": ["#ff0000", "#00e000"]},
      "legend": {"orient": "none", "legendX": 159.6, "legendY": 44, "title": null, "padding": 0, "rowPadding": 1, "labelFontSize": 12, "labelColor": "transparent", "symbolSize": 45}},
    "shape": {"field": "s", "type": "nominal", "sort": "descending", "scale": {"range": ["square", "circle"]},
      "legend": {"orient": "none", "legendX": 159.6, "legendY": 44, "title": null, "padding": 0, "rowPadding": 1, "labelFontSize": 12, "labelColor": "transparent", "symbolSize": 45}}
   }}
 ],
 "resolve": {"axis": {"x": "independent", "y": "independent"}}}
],
"resolve": {"scale": {"x": "independent", "y": "independent", "stroke": "independent", "fill": "independent", "shape": "independent"}, "legend": {"stroke": "independent", "fill": "independent", "shape": "independent"}}
}
],
"spacing": 18,
"bounds": "flush",
"resolve": {"scale": {"stroke": "independent", "fill": "independent", "shape": "independent"}, "legend": {"stroke": "independent", "fill": "independent", "shape": "independent"}}
},
{
"hconcat": [
{
"width": 227, "height": 188,
"layer": [
 {"layer": [
  {"data": {"name": "main"}, "transform": [{"filter": "datum.p=='d'"}],
   "mark": {"type": "line", "strokeWidth": 1},
   "encoding": {
    "x": {"field": "c", "type": "quantitative", "scale": {"type": "log", "domain": [0.0001, 0.03], "nice": false},
      "axis": {"orient": "bottom", "values": [0.0001, 0.001, 0.01, 0.03], "format": "~g", "labelFlush": false, "labelAlign": {"condition": {"test": "datum.value > 0.02", "value": "right"}, "value": "center"}, "labelFontSize": 11, "labelPadding": 8, "tickSize": -6, "title": "salt concentration (M)", "titleFontSize": 16, "titlePadding": 0}},
    "y": {"field": "v", "type": "quantitative", "scale": {"domain": [0.75, 1], "nice": false, "zero": false},
      "axis": {"orient": "left", "values": [0.75, 0.8, 0.85, 0.9, 0.95, 1], "format": "~g", "labelFontSize": 11, "labelPadding": 9, "tickSize": -6, "title": "Q (8Å)", "titleFontSize": 22, "titleFontStyle": "italic", "titlePadding": 4}},
    "stroke": {"field": "s", "type": "nominal", "scale": {"domain": ["four", "three", "two"], "range": ["#ff0000", "#00e000", "#0000ff"]},
      "legend": {"orient": "none", "legendX": 159.6, "legendY": 15, "title": null, "padding": 0, "rowPadding": 2, "labelFontSize": 12, "labelOffset": 7, "symbolType": "M-2.7,0H2.7", "symbolSize": 45, "symbolStrokeWidth": 1, "encode": {"labels": {"update": {"fill": {"signal": "indexof(datum.value,'f')==0||indexof(datum.value,'4')==0?'#ff0000':(indexof(datum.value,'th')==0||indexof(datum.value,'3')==0?'#00e000':'#0000ff')"}}}}}}
   }},
  {"data": {"name": "main"}, "transform": [{"filter": "datum.p=='d'"}],
   "mark": {"type": "point", "filled": true, "size": 40, "opacity": 1},
   "encoding": {
    "x": {"field": "c", "type": "quantitative", "scale": {"type": "log", "domain": [0.0001, 0.03], "nice": false},
      "axis": {"orient": "bottom", "values": [0.0002,0.0003,0.0004,0.0005,0.0006,0.0007,0.0008,0.0009,0.002,0.003,0.004,0.005,0.006,0.007,0.008,0.009,0.02], "labels": false, "tickSize": -3, "title": null}},
    "y": {"field": "v", "type": "quantitative", "scale": {"domain": [0.75, 1], "nice": false, "zero": false},
      "axis": {"orient": "left", "values": [0.775, 0.825, 0.875, 0.925, 0.975], "labels": false, "tickSize": -3, "title": null}},
    "fill": {"field": "s", "type": "nominal", "scale": {"range": ["#ff0000", "#00e000", "#0000ff"]},
      "legend": {"orient": "none", "legendX": 159.6, "legendY": 15, "title": null, "padding": 0, "rowPadding": 2, "labelFontSize": 12, "labelColor": "transparent", "symbolSize": 45}},
    "shape": {"field": "s", "type": "nominal", "scale": {"range": ["square", "circle", "triangle-up"]},
      "legend": {"orient": "none", "legendX": 159.6, "legendY": 15, "title": null, "padding": 0, "rowPadding": 2, "labelFontSize": 12, "labelColor": "transparent", "symbolSize": 45}}
   }},
  {"data": {"name": "titles"}, "transform": [{"filter": "datum.p=='d'"}],
   "mark": {"type": "text", "align": "left", "baseline": "middle", "fontSize": 14.5},
   "encoding": {
    "x": {"datum": 0.000765, "type": "quantitative", "scale": {"type": "log", "domain": [0.0001, 0.03], "nice": false}, "axis": null},
    "y": {"datum": 0.7886, "type": "quantitative", "scale": {"domain": [0.75, 1], "nice": false, "zero": false}, "axis": null},
    "text": {"field": "t"}
   }}
 ],
 "resolve": {"axis": {"x": "independent", "y": "independent"}}},
 {"layer": [
  {"data": {"name": "titles"}, "transform": [{"filter": "datum.p=='d'"}],
   "mark": {"type": "rect", "fill": "white", "stroke": "black", "strokeWidth": 1},
   "encoding": {
    "x": {"datum": 0.0001, "type": "quantitative", "scale": {"type": "log", "domain": [0.0001, 0.03], "nice": false, "range": [28, 145]},
      "axis": {"orient": "bottom", "offset": -109, "values": [0.0001, 0.001, 0.01, 0.03], "format": "~g", "labelFlush": true, "labelFontSize": 7, "labelPadding": 5, "tickSize": -3, "title": null, "zindex": 1}},
    "x2": {"datum": 0.03},
    "y": {"datum": 1.6, "type": "quantitative", "scale": {"domain": [0, 1.6], "nice": false, "zero": false, "range": [79, 11]},
      "axis": {"orient": "left", "offset": -28, "values": [0, 0.4, 0.8, 1.2, 1.6], "format": "~g", "labelFontSize": 7, "labelPadding": 5, "tickSize": -3, "title": "ΔQ(8Å)×Z", "titleFontSize": 10, "titleFontStyle": "italic", "titlePadding": 2, "zindex": 1}},
    "y2": {"datum": 0}
   }},
  {"data": {"name": "inset"}, "transform": [{"filter": "datum.p=='d'"}],
   "mark": {"type": "line", "strokeWidth": 1},
   "encoding": {
    "x": {"field": "c", "type": "quantitative", "scale": {"type": "log", "domain": [0.0001, 0.03], "nice": false, "range": [28, 145]},
      "axis": {"orient": "bottom", "offset": -109, "values": [0.0002,0.0003,0.0004,0.0005,0.0006,0.0007,0.0008,0.0009,0.002,0.003,0.004,0.005,0.006,0.007,0.008,0.009,0.02], "labels": false, "tickSize": -2, "title": null, "zindex": 1}},
    "y": {"field": "v", "type": "quantitative", "scale": {"domain": [0, 1.6], "nice": false, "zero": false, "range": [79, 11]},
      "axis": {"orient": "left", "offset": -28, "values": [0.2, 0.6, 1.0, 1.4], "labels": false, "tickSize": -2, "title": null, "zindex": 1}},
    "stroke": {"field": "s", "type": "nominal", "scale": {"domain": ["4 − 2", "3 − 2"], "range": ["#ff0000", "#00e000"]},
      "legend": {"orient": "none", "legendX": 40.6, "legendY": 48, "title": null, "padding": 0, "rowPadding": 1, "labelFontSize": 12, "labelOffset": 5, "symbolType": "M-2.7,0H2.7", "symbolSize": 45, "symbolStrokeWidth": 1, "encode": {"labels": {"update": {"fill": {"signal": "indexof(datum.value,'f')==0||indexof(datum.value,'4')==0?'#ff0000':(indexof(datum.value,'th')==0||indexof(datum.value,'3')==0?'#00e000':'#0000ff')"}}}}}}
   }},
  {"data": {"name": "inset"}, "transform": [{"filter": "datum.p=='d'"}],
   "mark": {"type": "point", "filled": true, "size": 8, "opacity": 1},
   "encoding": {
    "x": {"field": "c", "type": "quantitative", "scale": {"type": "log", "domain": [0.0001, 0.03], "nice": false, "range": [28, 145]}, "axis": null},
    "y": {"field": "v", "type": "quantitative", "scale": {"domain": [0, 1.6], "nice": false, "zero": false, "range": [79, 11]}, "axis": null},
    "fill": {"field": "s", "type": "nominal", "sort": "descending", "scale": {"range": ["#ff0000", "#00e000"]},
      "legend": {"orient": "none", "legendX": 40.6, "legendY": 48, "title": null, "padding": 0, "rowPadding": 1, "labelFontSize": 12, "labelColor": "transparent", "symbolSize": 45}},
    "shape": {"field": "s", "type": "nominal", "sort": "descending", "scale": {"range": ["square", "circle"]},
      "legend": {"orient": "none", "legendX": 40.6, "legendY": 48, "title": null, "padding": 0, "rowPadding": 1, "labelFontSize": 12, "labelColor": "transparent", "symbolSize": 45}}
   }}
 ],
 "resolve": {"axis": {"x": "independent", "y": "independent"}}}
],
"resolve": {"scale": {"x": "independent", "y": "independent", "stroke": "independent", "fill": "independent", "shape": "independent"}, "legend": {"stroke": "independent", "fill": "independent", "shape": "independent"}}
},
{
"width": 226, "height": 188,
"layer": [
 {"layer": [
  {"data": {"name": "main"}, "transform": [{"filter": "datum.p=='e'"}],
   "mark": {"type": "line", "strokeWidth": 1},
   "encoding": {
    "x": {"field": "c", "type": "quantitative", "scale": {"type": "log", "domain": [0.0001, 0.03], "nice": false},
      "axis": {"orient": "bottom", "values": [0.0001, 0.001, 0.01, 0.03], "format": "~g", "labelFlush": false, "labelAlign": {"condition": {"test": "datum.value > 0.02", "value": "right"}, "value": "center"}, "labelFontSize": 11, "labelPadding": 8, "tickSize": -6, "title": "salt concentration (M)", "titleFontSize": 16, "titlePadding": 0}},
    "y": {"field": "v", "type": "quantitative", "scale": {"domain": [0.75, 1], "nice": false, "zero": false},
      "axis": {"orient": "left", "values": [0.75, 0.8, 0.85, 0.9, 0.95, 1], "format": "~g", "labelFontSize": 11, "labelPadding": 9, "tickSize": -6, "title": null}},
    "stroke": {"field": "s", "type": "nominal", "scale": {"domain": ["four", "three", "two"], "range": ["#ff0000", "#00e000", "#0000ff"]},
      "legend": {"orient": "none", "legendX": 18.6, "legendY": 28, "title": null, "padding": 0, "rowPadding": 2, "labelFontSize": 12, "labelOffset": 7, "symbolType": "M-2.7,0H2.7", "symbolSize": 45, "symbolStrokeWidth": 1, "encode": {"labels": {"update": {"fill": {"signal": "indexof(datum.value,'f')==0||indexof(datum.value,'4')==0?'#ff0000':(indexof(datum.value,'th')==0||indexof(datum.value,'3')==0?'#00e000':'#0000ff')"}}}}}}
   }},
  {"data": {"name": "main"}, "transform": [{"filter": "datum.p=='e'"}],
   "mark": {"type": "point", "filled": true, "size": 40, "opacity": 1},
   "encoding": {
    "x": {"field": "c", "type": "quantitative", "scale": {"type": "log", "domain": [0.0001, 0.03], "nice": false},
      "axis": {"orient": "bottom", "values": [0.0002,0.0003,0.0004,0.0005,0.0006,0.0007,0.0008,0.0009,0.002,0.003,0.004,0.005,0.006,0.007,0.008,0.009,0.02], "labels": false, "tickSize": -3, "title": null}},
    "y": {"field": "v", "type": "quantitative", "scale": {"domain": [0.75, 1], "nice": false, "zero": false},
      "axis": {"orient": "left", "values": [0.775, 0.825, 0.875, 0.925, 0.975], "labels": false, "tickSize": -3, "title": null}},
    "fill": {"field": "s", "type": "nominal", "scale": {"range": ["#ff0000", "#00e000", "#0000ff"]},
      "legend": {"orient": "none", "legendX": 18.6, "legendY": 28, "title": null, "padding": 0, "rowPadding": 2, "labelFontSize": 12, "labelColor": "transparent", "symbolSize": 45}},
    "shape": {"field": "s", "type": "nominal", "scale": {"range": ["square", "circle", "triangle-up"]},
      "legend": {"orient": "none", "legendX": 18.6, "legendY": 28, "title": null, "padding": 0, "rowPadding": 2, "labelFontSize": 12, "labelColor": "transparent", "symbolSize": 45}}
   }},
  {"data": {"name": "titles"}, "transform": [{"filter": "datum.p=='e'"}],
   "mark": {"type": "text", "align": "left", "baseline": "middle", "fontSize": 14.5},
   "encoding": {
    "x": {"datum": 0.000139, "type": "quantitative", "scale": {"type": "log", "domain": [0.0001, 0.03], "nice": false}, "axis": null},
    "y": {"datum": 0.976, "type": "quantitative", "scale": {"domain": [0.75, 1], "nice": false, "zero": false}, "axis": null},
    "text": {"field": "t"}
   }}
 ],
 "resolve": {"axis": {"x": "independent", "y": "independent"}}},
 {"layer": [
  {"data": {"name": "titles"}, "transform": [{"filter": "datum.p=='e'"}],
   "mark": {"type": "rect", "fill": "white", "stroke": "black", "strokeWidth": 1},
   "encoding": {
    "x": {"datum": 0.0001, "type": "quantitative", "scale": {"type": "log", "domain": [0.0001, 0.03], "nice": false, "range": [89, 216]},
      "axis": {"orient": "bottom", "offset": -9, "values": [0.0001, 0.001, 0.01, 0.03], "format": "~g", "labelFlush": true, "labelFontSize": 7, "labelPadding": 5, "tickSize": -3, "title": null, "zindex": 1}},
    "x2": {"datum": 0.03},
    "y": {"datum": 1.6, "type": "quantitative", "scale": {"domain": [0, 1.6], "nice": false, "zero": false, "range": [179, 110]},
      "axis": {"orient": "left", "offset": -89, "values": [0, 0.4, 0.8, 1.2, 1.6], "format": "~g", "labelFontSize": 7, "labelPadding": 5, "tickSize": -3, "title": "ΔQ(8Å)×Z", "titleFontSize": 10, "titleFontStyle": "italic", "titlePadding": 2, "zindex": 1}},
    "y2": {"datum": 0}
   }},
  {"data": {"name": "inset"}, "transform": [{"filter": "datum.p=='e'"}],
   "mark": {"type": "line", "strokeWidth": 1},
   "encoding": {
    "x": {"field": "c", "type": "quantitative", "scale": {"type": "log", "domain": [0.0001, 0.03], "nice": false, "range": [89, 216]},
      "axis": {"orient": "bottom", "offset": -9, "values": [0.0002,0.0003,0.0004,0.0005,0.0006,0.0007,0.0008,0.0009,0.002,0.003,0.004,0.005,0.006,0.007,0.008,0.009,0.02], "labels": false, "tickSize": -2, "title": null, "zindex": 1}},
    "y": {"field": "v", "type": "quantitative", "scale": {"domain": [0, 1.6], "nice": false, "zero": false, "range": [179, 110]},
      "axis": {"orient": "left", "offset": -89, "values": [0.2, 0.6, 1.0, 1.4], "labels": false, "tickSize": -2, "title": null, "zindex": 1}},
    "stroke": {"field": "s", "type": "nominal", "scale": {"domain": ["4 − 2", "3 − 2"], "range": ["#ff0000", "#00e000"]},
      "legend": {"orient": "none", "legendX": 102.6, "legendY": 151, "title": null, "padding": 0, "rowPadding": 1, "labelFontSize": 12, "labelOffset": 5, "symbolType": "M-2.7,0H2.7", "symbolSize": 45, "symbolStrokeWidth": 1, "encode": {"labels": {"update": {"fill": {"signal": "indexof(datum.value,'f')==0||indexof(datum.value,'4')==0?'#ff0000':(indexof(datum.value,'th')==0||indexof(datum.value,'3')==0?'#00e000':'#0000ff')"}}}}}}
   }},
  {"data": {"name": "inset"}, "transform": [{"filter": "datum.p=='e'"}],
   "mark": {"type": "point", "filled": true, "size": 8, "opacity": 1},
   "encoding": {
    "x": {"field": "c", "type": "quantitative", "scale": {"type": "log", "domain": [0.0001, 0.03], "nice": false, "range": [89, 216]}, "axis": null},
    "y": {"field": "v", "type": "quantitative", "scale": {"domain": [0, 1.6], "nice": false, "zero": false, "range": [179, 110]}, "axis": null},
    "fill": {"field": "s", "type": "nominal", "sort": "descending", "scale": {"range": ["#ff0000", "#00e000"]},
      "legend": {"orient": "none", "legendX": 102.6, "legendY": 151, "title": null, "padding": 0, "rowPadding": 1, "labelFontSize": 12, "labelColor": "transparent", "symbolSize": 45}},
    "shape": {"field": "s", "type": "nominal", "sort": "descending", "scale": {"range": ["square", "circle"]},
      "legend": {"orient": "none", "legendX": 102.6, "legendY": 151, "title": null, "padding": 0, "rowPadding": 1, "labelFontSize": 12, "labelColor": "transparent", "symbolSize": 45}}
   }}
 ],
 "resolve": {"axis": {"x": "independent", "y": "independent"}}}
],
"resolve": {"scale": {"x": "independent", "y": "independent", "stroke": "independent", "fill": "independent", "shape": "independent"}, "legend": {"stroke": "independent", "fill": "independent", "shape": "independent"}}
},
{
"width": 225, "height": 188,
"layer": [
 {"layer": [
  {"data": {"name": "main"}, "transform": [{"filter": "datum.p=='f'"}],
   "mark": {"type": "line", "strokeWidth": 1},
   "encoding": {
    "x": {"field": "c", "type": "quantitative", "scale": {"type": "log", "domain": [0.0001, 0.03], "nice": false},
      "axis": {"orient": "bottom", "values": [0.0001, 0.001, 0.01, 0.03], "format": "~g", "labelFlush": false, "labelAlign": {"condition": {"test": "datum.value > 0.02", "value": "right"}, "value": "center"}, "labelFontSize": 11, "labelPadding": 8, "tickSize": -6, "title": "salt concentration (M)", "titleFontSize": 16, "titlePadding": 0}},
    "y": {"field": "v", "type": "quantitative", "scale": {"domain": [0.75, 1], "nice": false, "zero": false},
      "axis": {"orient": "left", "values": [0.75, 0.8, 0.85, 0.9, 0.95, 1], "format": "~g", "labelFontSize": 11, "labelPadding": 9, "tickSize": -6, "title": null}},
    "stroke": {"field": "s", "type": "nominal", "scale": {"domain": ["four", "three", "two"], "range": ["#ff0000", "#00e000", "#0000ff"]},
      "legend": {"orient": "none", "legendX": 16.6, "legendY": 29, "title": null, "padding": 0, "rowPadding": 2, "labelFontSize": 12, "labelOffset": 7, "symbolType": "M-2.7,0H2.7", "symbolSize": 45, "symbolStrokeWidth": 1, "encode": {"labels": {"update": {"fill": {"signal": "indexof(datum.value,'f')==0||indexof(datum.value,'4')==0?'#ff0000':(indexof(datum.value,'th')==0||indexof(datum.value,'3')==0?'#00e000':'#0000ff')"}}}}}}
   }},
  {"data": {"name": "main"}, "transform": [{"filter": "datum.p=='f'"}],
   "mark": {"type": "point", "filled": true, "size": 40, "opacity": 1},
   "encoding": {
    "x": {"field": "c", "type": "quantitative", "scale": {"type": "log", "domain": [0.0001, 0.03], "nice": false},
      "axis": {"orient": "bottom", "values": [0.0002,0.0003,0.0004,0.0005,0.0006,0.0007,0.0008,0.0009,0.002,0.003,0.004,0.005,0.006,0.007,0.008,0.009,0.02], "labels": false, "tickSize": -3, "title": null}},
    "y": {"field": "v", "type": "quantitative", "scale": {"domain": [0.75, 1], "nice": false, "zero": false},
      "axis": {"orient": "left", "values": [0.775, 0.825, 0.875, 0.925, 0.975], "labels": false, "tickSize": -3, "title": null}},
    "fill": {"field": "s", "type": "nominal", "scale": {"range": ["#ff0000", "#00e000", "#0000ff"]},
      "legend": {"orient": "none", "legendX": 16.6, "legendY": 29, "title": null, "padding": 0, "rowPadding": 2, "labelFontSize": 12, "labelColor": "transparent", "symbolSize": 45}},
    "shape": {"field": "s", "type": "nominal", "scale": {"range": ["square", "circle", "triangle-up"]},
      "legend": {"orient": "none", "legendX": 16.6, "legendY": 29, "title": null, "padding": 0, "rowPadding": 2, "labelFontSize": 12, "labelColor": "transparent", "symbolSize": 45}}
   }},
  {"data": {"name": "titles"}, "transform": [{"filter": "datum.p=='f'"}],
   "mark": {"type": "text", "align": "left", "baseline": "middle", "fontSize": 14.5},
   "encoding": {
    "x": {"datum": 0.000132, "type": "quantitative", "scale": {"type": "log", "domain": [0.0001, 0.03], "nice": false}, "axis": null},
    "y": {"datum": 0.976, "type": "quantitative", "scale": {"domain": [0.75, 1], "nice": false, "zero": false}, "axis": null},
    "text": {"field": "t"}
   }}
 ],
 "resolve": {"axis": {"x": "independent", "y": "independent"}}},
 {"layer": [
  {"data": {"name": "titles"}, "transform": [{"filter": "datum.p=='f'"}],
   "mark": {"type": "rect", "fill": "white", "stroke": "black", "strokeWidth": 1},
   "encoding": {
    "x": {"datum": 0.0001, "type": "quantitative", "scale": {"type": "log", "domain": [0.0001, 0.03], "nice": false, "range": [84, 221]},
      "axis": {"orient": "bottom", "offset": -14, "values": [0.0001, 0.001, 0.01, 0.03], "format": "~g", "labelFlush": true, "labelFontSize": 7, "labelPadding": 5, "tickSize": -3, "title": null, "zindex": 1}},
    "x2": {"datum": 0.03},
    "y": {"datum": 1.6, "type": "quantitative", "scale": {"domain": [0, 1.6], "nice": false, "zero": false, "range": [174, 99]},
      "axis": {"orient": "left", "offset": -84, "values": [0, 0.4, 0.8, 1.2, 1.6], "format": "~g", "labelFontSize": 7, "labelPadding": 5, "tickSize": -3, "title": "ΔQ(8Å)×Z", "titleFontSize": 10, "titleFontStyle": "italic", "titlePadding": 2, "zindex": 1}},
    "y2": {"datum": 0}
   }},
  {"data": {"name": "inset"}, "transform": [{"filter": "datum.p=='f'"}],
   "mark": {"type": "line", "strokeWidth": 1},
   "encoding": {
    "x": {"field": "c", "type": "quantitative", "scale": {"type": "log", "domain": [0.0001, 0.03], "nice": false, "range": [84, 221]},
      "axis": {"orient": "bottom", "offset": -14, "values": [0.0002,0.0003,0.0004,0.0005,0.0006,0.0007,0.0008,0.0009,0.002,0.003,0.004,0.005,0.006,0.007,0.008,0.009,0.02], "labels": false, "tickSize": -2, "title": null, "zindex": 1}},
    "y": {"field": "v", "type": "quantitative", "scale": {"domain": [0, 1.6], "nice": false, "zero": false, "range": [174, 99]},
      "axis": {"orient": "left", "offset": -84, "values": [0.2, 0.6, 1.0, 1.4], "labels": false, "tickSize": -2, "title": null, "zindex": 1}},
    "stroke": {"field": "s", "type": "nominal", "scale": {"domain": ["4 − 2", "3 − 2"], "range": ["#ff0000", "#00e000"]},
      "legend": {"orient": "none", "legendX": 96.6, "legendY": 147, "title": null, "padding": 0, "rowPadding": 1, "labelFontSize": 12, "labelOffset": 5, "symbolType": "M-2.7,0H2.7", "symbolSize": 45, "symbolStrokeWidth": 1, "encode": {"labels": {"update": {"fill": {"signal": "indexof(datum.value,'f')==0||indexof(datum.value,'4')==0?'#ff0000':(indexof(datum.value,'th')==0||indexof(datum.value,'3')==0?'#00e000':'#0000ff')"}}}}}}
   }},
  {"data": {"name": "inset"}, "transform": [{"filter": "datum.p=='f'"}],
   "mark": {"type": "point", "filled": true, "size": 8, "opacity": 1},
   "encoding": {
    "x": {"field": "c", "type": "quantitative", "scale": {"type": "log", "domain": [0.0001, 0.03], "nice": false, "range": [84, 221]}, "axis": null},
    "y": {"field": "v", "type": "quantitative", "scale": {"domain": [0, 1.6], "nice": false, "zero": false, "range": [174, 99]}, "axis": null},
    "fill": {"field": "s", "type": "nominal", "sort": "descending", "scale": {"range": ["#ff0000", "#00e000"]},
      "legend": {"orient": "none", "legendX": 96.6, "legendY": 147, "title": null, "padding": 0, "rowPadding": 1, "labelFontSize": 12, "labelColor": "transparent", "symbolSize": 45}},
    "shape": {"field": "s", "type": "nominal", "sort": "descending", "scale": {"range": ["square", "circle"]},
      "legend": {"orient": "none", "legendX": 96.6, "legendY": 147, "title": null, "padding": 0, "rowPadding": 1, "labelFontSize": 12, "labelColor": "transparent", "symbolSize": 45}}
   }}
 ],
 "resolve": {"axis": {"x": "independent", "y": "independent"}}}
],
"resolve": {"scale": {"x": "independent", "y": "independent", "stroke": "independent", "fill": "independent", "shape": "independent"}, "legend": {"stroke": "independent", "fill": "independent", "shape": "independent"}}
}
],
"spacing": 23,
"bounds": "flush",
"resolve": {"scale": {"stroke": "independent", "fill": "independent", "shape": "independent"}, "legend": {"stroke": "independent", "fill": "independent", "shape": "independent"}}
}
]
}
